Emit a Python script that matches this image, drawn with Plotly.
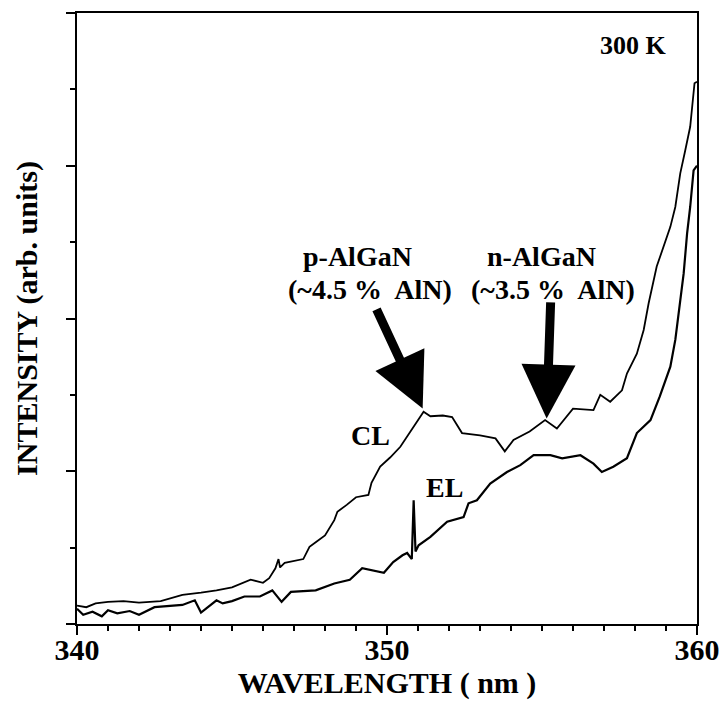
import plotly.graph_objects as go

# ---- data ----
cl_x = [340.0, 340.3, 340.6, 341.0, 341.5, 342.0, 342.7, 343.0, 343.4, 344.0, 344.5, 345.0,
        345.2, 345.6, 346.0, 346.2, 346.4, 346.5, 346.55, 346.7, 347.3, 347.5, 347.7, 348.0,
        348.3, 348.4, 348.7, 349.0, 349.4, 349.5, 349.78, 350.1, 350.43, 350.86, 351.18, 351.4,
        351.8, 352.1, 352.42, 353.0, 353.5, 353.8, 354.08, 354.6, 355.1, 355.48, 356.0, 356.66,
        356.88, 357.2, 357.58, 357.74, 358.06, 358.28, 358.44, 358.7, 358.92, 359.14, 359.3,
        359.46, 359.62, 359.78, 359.92, 360.0]
cl_y = [0.24, 0.22, 0.27, 0.29, 0.30, 0.28, 0.30, 0.33, 0.38, 0.41, 0.44, 0.48,
        0.51, 0.58, 0.54, 0.60, 0.73, 0.85, 0.74, 0.80, 0.85, 1.01, 1.07, 1.16,
        1.36, 1.47, 1.56, 1.66, 1.69, 1.85, 2.06, 2.18, 2.32, 2.58, 2.78, 2.72,
        2.73, 2.71, 2.50, 2.47, 2.43, 2.26, 2.41, 2.52, 2.67, 2.56, 2.82, 2.80,
        3.00, 2.91, 3.06, 3.28, 3.54, 3.85, 4.20, 4.68, 4.94, 5.20, 5.46,
        5.90, 6.20, 6.51, 7.08, 7.10]

el_x = [340.0, 340.2, 340.5, 340.8, 341.0, 341.3, 341.7, 342.0, 342.5, 343.0, 343.4, 343.8,
        344.0, 344.5, 344.7, 345.0, 345.4, 345.9, 346.3, 346.6, 346.9, 347.7, 348.3, 348.8,
        349.2, 349.9, 350.2, 350.5, 350.65, 350.8, 350.86, 350.92, 351.02, 351.4, 351.94,
        352.47, 352.63, 352.9, 353.33, 353.87, 354.3, 354.73, 355.27, 355.65, 356.24, 356.66,
        356.93, 357.3, 357.74, 358.06, 358.5, 358.8, 359.14, 359.3, 359.41, 359.57, 359.68,
        359.78, 359.89, 360.0]
el_y = [0.20, 0.12, 0.16, 0.10, 0.18, 0.14, 0.17, 0.12, 0.22, 0.24, 0.25, 0.31,
        0.15, 0.31, 0.27, 0.30, 0.36, 0.36, 0.44, 0.29, 0.42, 0.44, 0.53, 0.58,
        0.73, 0.67, 0.81, 0.90, 0.93, 0.85, 1.62, 0.95, 1.03, 1.14, 1.34,
        1.40, 1.58, 1.62, 1.84, 1.99, 2.08, 2.21, 2.21, 2.17, 2.21, 2.10,
        1.99, 2.06, 2.17, 2.50, 2.67, 2.98, 3.37, 3.72, 4.07, 4.59, 5.11,
        5.46, 5.94, 6.00]

x_ticks = [340, 350, 360]
x_tick_labels = ["340", "350", "360"]

FONT = "Liberation Serif"

fig = go.Figure()
fig.add_trace(go.Scatter(x=cl_x, y=cl_y, mode="lines", name="CL",
                         line=dict(color="black", width=1.8)))
fig.add_trace(go.Scatter(x=el_x, y=el_y, mode="lines", name="EL",
                         line=dict(color="black", width=2.2)))

def txt(x, y, s, size=28):
    fig.add_annotation(x=x, y=y, xref="x", yref="y", text=s, showarrow=False,
                       font=dict(family=FONT, size=size, color="black", weight="bold"))

txt(357.96, 7.57, "300 K", 26)
txt(349.05, 4.81, "p-AlGaN")
txt(349.46, 4.38, "(~4.5 %  AlN)")
txt(354.98, 4.81, "n-AlGaN")
txt(355.35, 4.38, "(~3.5 %  AlN)")
txt(349.46, 2.47, "CL")
txt(351.85, 1.79, "EL")

# arrows
for tail, tip in [((349.64, 4.14), (351.15, 2.82)), ((355.28, 4.23), (355.15, 2.69))]:
    fig.add_annotation(x=tip[0], y=tip[1], ax=tail[0], ay=tail[1],
                       xref="x", yref="y", axref="x", ayref="y", text="",
                       showarrow=True, arrowhead=2, arrowsize=1.2, arrowwidth=9,
                       arrowcolor="black")

fig.update_layout(
    width=725, height=709,
    margin=dict(l=77, r=28, t=13, b=85, autoexpand=False),
    plot_bgcolor="white", paper_bgcolor="white",
    showlegend=False,
    font=dict(family=FONT, color="black"),
)
fig.update_xaxes(
    range=[340, 360], tickvals=x_ticks, ticktext=x_tick_labels,
    ticks="outside", ticklen=9, tickwidth=2, tickcolor="black",
    ticklabelstandoff=-11,
    minor=dict(dtick=1, ticks="outside", ticklen=5, tickwidth=2, tickcolor="black"),
    showline=True, linewidth=2, linecolor="black", mirror=True,
    showgrid=False, zeroline=False,
    tickfont=dict(family=FONT, size=30, color="black", weight="bold"),
    title=dict(text="WAVELENGTH ( nm )", standoff=0,
               font=dict(family=FONT, size=30, color="black", weight="bold")),
)
fig.update_yaxes(
    range=[0, 8], dtick=2, tick0=0, showticklabels=False,
    ticks="outside", ticklen=9, tickwidth=2, tickcolor="black",
    minor=dict(dtick=1, ticks="outside", ticklen=5, tickwidth=2, tickcolor="black"),
    showline=True, linewidth=2, linecolor="black", mirror=True,
    showgrid=False, zeroline=False,
    title=dict(text="INTENSITY (arb. units)", standoff=20,
               font=dict(family=FONT, size=30, color="black", weight="bold")),
)

fig.write_html("out.html")
